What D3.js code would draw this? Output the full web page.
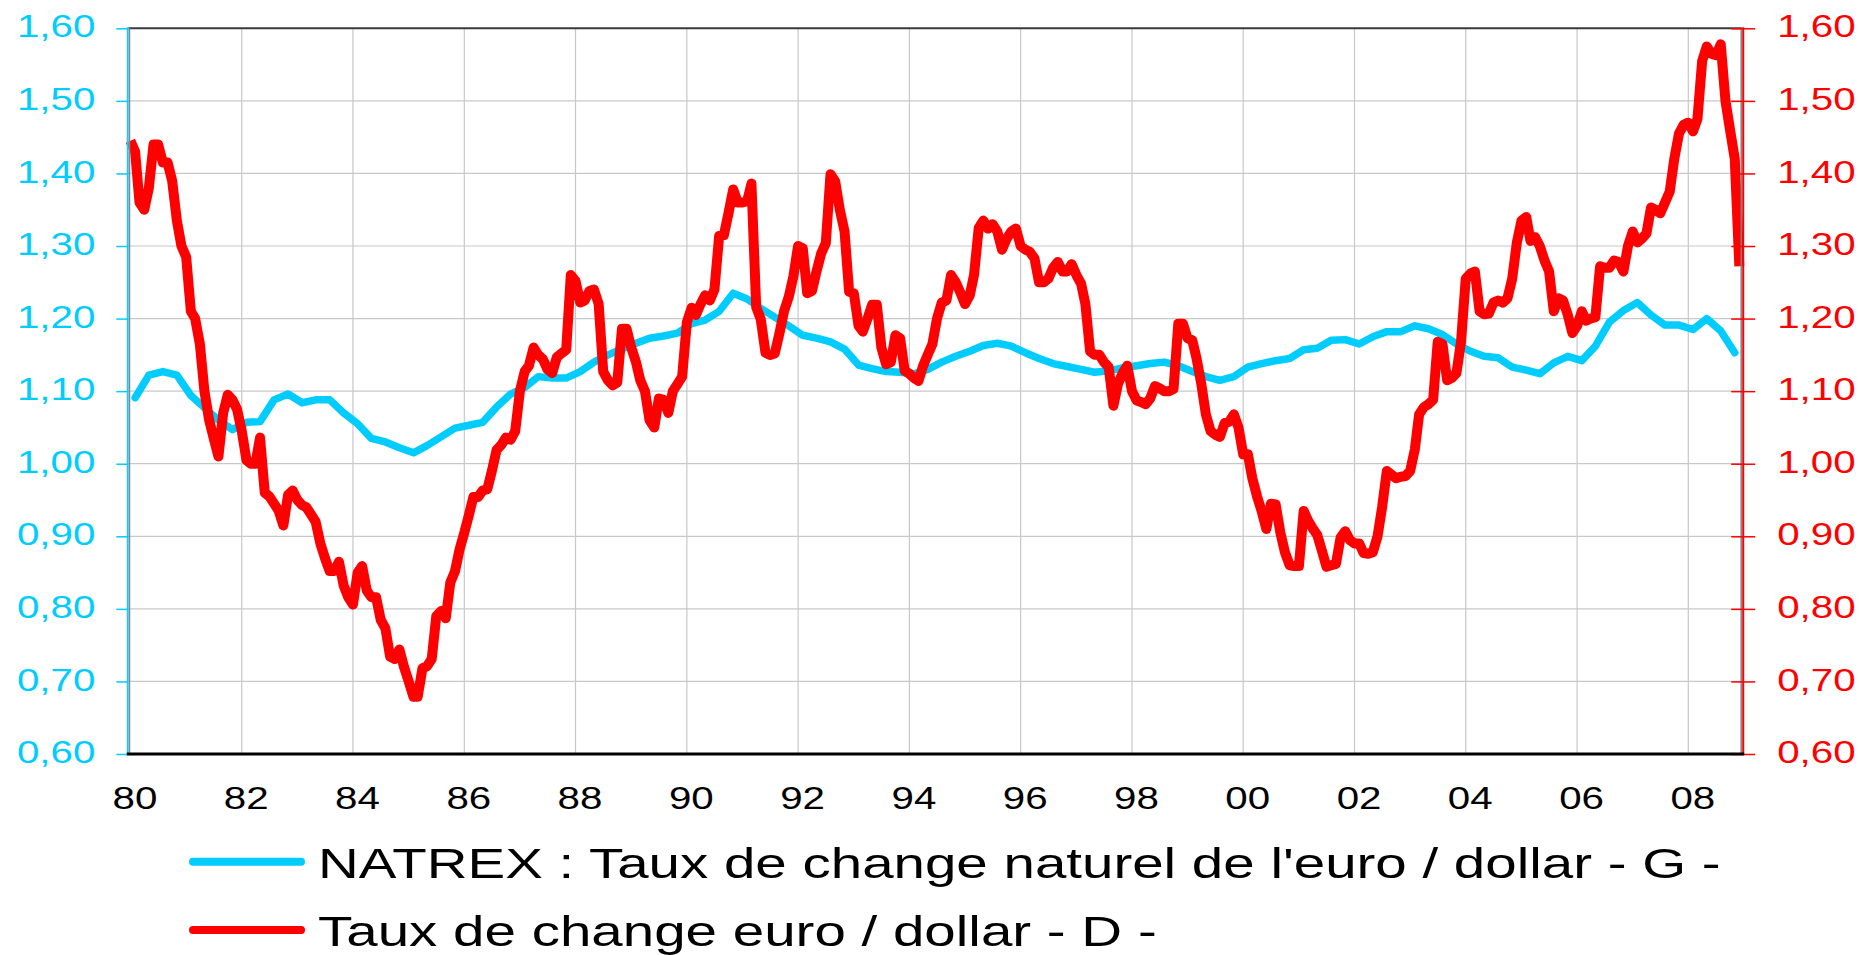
<!DOCTYPE html>
<html><head><meta charset="utf-8">
<script src="https://cdn.jsdelivr.net/npm/d3@7"></script>
<style>
html,body{margin:0;padding:0;background:#fff;}
svg{display:block;font-family:"Liberation Sans",Arial,sans-serif;}
</style></head>
<body>
<svg id="chart" width="1861" height="955"></svg>
<script>
// ---- DATA ----
// Taux de change euro / dollar (monthly, from Jan 1980)
const redStart = [1980, 0];
const redValues = [
1.445,1.43,1.36,1.35,1.38,1.44,1.44,1.415,1.415,1.39,1.335,1.30,
1.285,1.21,1.20,1.165,1.10,1.06,1.035,1.01,1.07,1.095,1.088,1.075,
1.045,1.005,1.00,1.00,1.036,0.96,0.955,0.945,0.935,0.915,0.957,0.963,
0.95,0.943,0.94,0.93,0.92,0.89,0.87,0.852,0.852,0.865,0.832,0.816,
0.806,0.85,0.859,0.825,0.816,0.816,0.785,0.773,0.734,0.731,0.744,0.72,
0.70,0.679,0.679,0.718,0.721,0.731,0.79,0.797,0.787,0.836,0.852,0.882,
0.905,0.93,0.954,0.954,0.963,0.965,0.99,1.019,1.026,1.036,1.033,1.045,
1.10,1.127,1.135,1.16,1.15,1.144,1.13,1.125,1.147,1.152,1.157,1.26,
1.252,1.222,1.225,1.238,1.24,1.22,1.127,1.115,1.108,1.112,1.186,1.186,
1.16,1.14,1.115,1.10,1.06,1.05,1.09,1.088,1.07,1.10,1.11,1.12,
1.195,1.215,1.205,1.22,1.232,1.225,1.24,1.314,1.315,1.345,1.378,1.36,
1.36,1.362,1.386,1.216,1.199,1.153,1.15,1.152,1.18,1.21,1.23,1.258,
1.30,1.297,1.235,1.238,1.265,1.29,1.304,1.399,1.389,1.35,1.32,1.237,
1.235,1.19,1.182,1.20,1.219,1.219,1.16,1.137,1.14,1.177,1.173,1.128,
1.124,1.118,1.114,1.135,1.15,1.165,1.20,1.222,1.225,1.26,1.25,1.236,
1.22,1.232,1.26,1.325,1.335,1.324,1.33,1.32,1.295,1.31,1.32,1.324,
1.30,1.295,1.292,1.283,1.25,1.25,1.255,1.27,1.278,1.265,1.265,1.275,
1.26,1.248,1.22,1.155,1.15,1.15,1.14,1.133,1.08,1.11,1.125,1.135,
1.10,1.087,1.085,1.082,1.09,1.107,1.104,1.10,1.10,1.103,1.193,1.193,
1.173,1.17,1.145,1.11,1.068,1.045,1.04,1.037,1.056,1.058,1.068,1.05,
1.013,1.013,0.98,0.955,0.935,0.91,0.945,0.944,0.905,0.878,0.86,0.859,
0.859,0.935,0.922,0.911,0.902,0.88,0.858,0.86,0.862,0.898,0.907,0.895,
0.89,0.89,0.877,0.876,0.878,0.90,0.94,0.99,0.985,0.98,0.982,0.983,
0.99,1.02,1.068,1.078,1.082,1.088,1.168,1.165,1.115,1.118,1.125,1.168,
1.255,1.262,1.265,1.21,1.206,1.207,1.222,1.225,1.222,1.228,1.255,1.304,
1.335,1.34,1.307,1.312,1.30,1.28,1.265,1.21,1.228,1.225,1.205,1.18,
1.19,1.21,1.197,1.20,1.202,1.272,1.27,1.27,1.28,1.278,1.265,1.30,
1.32,1.305,1.31,1.317,1.353,1.35,1.345,1.36,1.375,1.42,1.455,1.467,
1.47,1.458,1.475,1.555,1.575,1.565,1.563,1.578,1.50,1.46,1.42,1.272
];
// NATREX (quarterly, mid-quarter months from Feb 1980)
const natrexStart = [1980, 1];
const natrexStepMonths = 3;
const natrexValues = [
1.091,1.122,1.127,1.122, 1.094,1.077,1.06,1.047, 1.057,1.058,1.088,1.096,
1.084,1.088,1.088,1.07, 1.055,1.035,1.03,1.022, 1.015,1.025,1.037,1.049,
1.053,1.057,1.078,1.096, 1.105,1.12,1.118,1.118, 1.127,1.14,1.15,1.158,
1.166,1.173,1.176,1.18, 1.193,1.198,1.21,1.235, 1.227,1.214,1.202,1.19,
1.177,1.173,1.168,1.158, 1.136,1.131,1.127,1.126, 1.124,1.13,1.14,1.148,
1.155,1.163,1.166,1.162, 1.153,1.145,1.138,1.134, 1.13,1.126,1.128,1.132,
1.135,1.138,1.14,1.135, 1.127,1.12,1.115,1.12, 1.133,1.138,1.142,1.145,
1.157,1.159,1.17,1.171, 1.165,1.175,1.182,1.182, 1.19,1.186,1.178,1.165,
1.155,1.148,1.146,1.133, 1.129,1.124,1.139,1.148, 1.142,1.162,1.195,1.211,
1.222,1.205,1.191,1.191, 1.185,1.20,1.183,1.153
];
const yTicks = [0.6,0.7,0.8,0.9,1.0,1.1,1.2,1.3,1.4,1.5,1.6];
const xTickYears = [1980,1982,1984,1986,1988,1990,1992,1994,1996,1998,2000,2002,2004,2006,2008];
const legendLabels = [
  "NATREX : Taux de change naturel de l'euro / dollar - G -",
  "Taux de change euro / dollar - D -"
];
const colors = {natrex:"#00CCFF", red:"#FF0000"};

// ---- LAYOUT ----
const svg = d3.select("#chart");
const L = 128.3, R = 1741.7, T = 28.3, B = 754;
const STRETCH = 1.3;
const fr = d3.formatLocale({decimal:",", thousands:" ", grouping:[3], currency:["","€"]});
const fmt = fr.format(".2f");

const x = d3.scaleTime()
  .domain([new Date(1980,0,1), new Date(2008,0,1)])
  .range([130.4, 1688.3]);
const y = d3.scaleLinear().domain([0.6,1.6]).range([B, T]);

const redData = redValues.map((v,i)=>({d:new Date(redStart[0], redStart[1]+i, 1), v}));
const natData = natrexValues.map((v,i)=>({d:new Date(natrexStart[0], natrexStart[1]+i*natrexStepMonths, 1), v}));

// gridlines
const grid = svg.append("g");
grid.selectAll("line.h").data(yTicks.filter(t=>t>0.61 && t<1.59)).join("line")
  .attr("x1", L).attr("x2", R).attr("y1", d=>y(d)).attr("y2", d=>y(d))
  .attr("stroke","#c8c8c8").attr("stroke-width",1.2);
grid.selectAll("line.v").data(xTickYears.filter(yr=>yr>1980)).join("line")
  .attr("x1", d=>x(new Date(d,0,1))).attr("x2", d=>x(new Date(d,0,1)))
  .attr("y1", T).attr("y2", B)
  .attr("stroke","#c8c8c8").attr("stroke-width",1.2);

// lines
const line = d3.line().x(d=>x(d.d)).y(d=>y(d.v));
svg.append("path").datum(natData).attr("d", line)
  .attr("fill","none").attr("stroke",colors.natrex).attr("stroke-width",7.5)
  .attr("stroke-linejoin","round").attr("stroke-linecap","round");
svg.append("path").datum(redData).attr("d", line)
  .attr("fill","none").attr("stroke",colors.red).attr("stroke-width",10)
  .attr("stroke-linejoin","round").attr("stroke-linecap","butt");

// frame
svg.append("line").attr("x1",L).attr("x2",R).attr("y1",T).attr("y2",T)
  .attr("stroke","#3a3a3a").attr("stroke-width",2);
svg.append("line").attr("x1",R-0.5).attr("x2",R-0.5).attr("y1",T).attr("y2",B)
  .attr("stroke","#808080").attr("stroke-width",1.5);
svg.append("line").attr("x1",R+1.5).attr("x2",R+1.5).attr("y1",T-1).attr("y2",B)
  .attr("stroke",colors.red).attr("stroke-width",2);
svg.append("line").attr("x1",L+1.2).attr("x2",L+1.2).attr("y1",T).attr("y2",B)
  .attr("stroke","#7a8a96").attr("stroke-width",1.5);
svg.append("line").attr("x1",L-0.6).attr("x2",L-0.6).attr("y1",T-1).attr("y2",B)
  .attr("stroke","#33c4ea").attr("stroke-width",2);

// left axis
const gl = svg.append("g").attr("transform",`translate(${L},0)`)
  .call(d3.axisLeft(y).tickValues(yTicks).tickFormat(fmt).tickSize(12).tickPadding(0));
gl.select(".domain").remove();
gl.selectAll(".tick line").attr("stroke",colors.natrex).attr("stroke-width",1.5);
gl.selectAll(".tick text")
  .attr("x",0).attr("dy","0.28em")
  .attr("transform",`translate(-33,0) scale(${STRETCH},1)`)
  .attr("text-anchor","end")
  .attr("fill",colors.natrex).style("font-size","31px")
  .style("font-family","'Liberation Sans',Arial,sans-serif");

// right axis
const gr = svg.append("g").attr("transform",`translate(${R+1.5},0)`)
  .call(d3.axisRight(y).tickValues(yTicks).tickFormat(fmt).tickSize(12).tickPadding(0));
gr.select(".domain").remove();
gr.selectAll(".tick line").attr("x1",-12).attr("x2",12)
  .attr("stroke",colors.red).attr("stroke-width",1.5);
gr.selectAll(".tick text")
  .attr("x",0).attr("dy","0.28em")
  .attr("transform",`translate(34,0) scale(${STRETCH},1)`)
  .attr("text-anchor","start")
  .attr("fill",colors.red).style("font-size","31px")
  .style("font-family","'Liberation Sans',Arial,sans-serif");

// bottom axis
const gb = svg.append("g").attr("transform",`translate(0,${B})`)
  .call(d3.axisBottom(x).tickValues(xTickYears.map(yr=>new Date(yr,0,1)))
    .tickFormat(d3.timeFormat("%y")).tickSize(0).tickPadding(0));
gb.select(".domain").remove();
gb.selectAll(".tick text")
  .attr("y",0).attr("dy",0)
  .attr("transform",`translate(4,55) scale(${STRETCH},1)`)
  .attr("text-anchor","middle")
  .attr("fill","#000").style("font-size","31px")
  .style("font-family","'Liberation Sans',Arial,sans-serif");
svg.append("line").attr("x1",L-1.5).attr("x2",R+2.5).attr("y1",B).attr("y2",B)
  .attr("stroke","#000").attr("stroke-width",3);

// legend
const legendTargets = [1403, 839];
const lg = svg.append("g");
const rows = [
  {label:legendLabels[0], color:colors.natrex, ly:861.7, ty:877.5},
  {label:legendLabels[1], color:colors.red, ly:930, ty:945.5}
];
rows.forEach((r,i)=>{
  lg.append("line").attr("x1",193).attr("x2",301).attr("y1",r.ly).attr("y2",r.ly)
    .attr("stroke",r.color).attr("stroke-width",8).attr("stroke-linecap","round");
  const t = lg.append("text").text(r.label)
    .attr("x",0).attr("y",0)
    .style("font-size","42px").attr("fill","#000")
    .style("font-family","'Liberation Sans',Arial,sans-serif");
  const w = t.node().getComputedTextLength();
  const s = legendTargets[i]/w;
  t.attr("transform",`translate(318,${r.ty}) scale(${s},1)`);
});
</script>
</body></html>
